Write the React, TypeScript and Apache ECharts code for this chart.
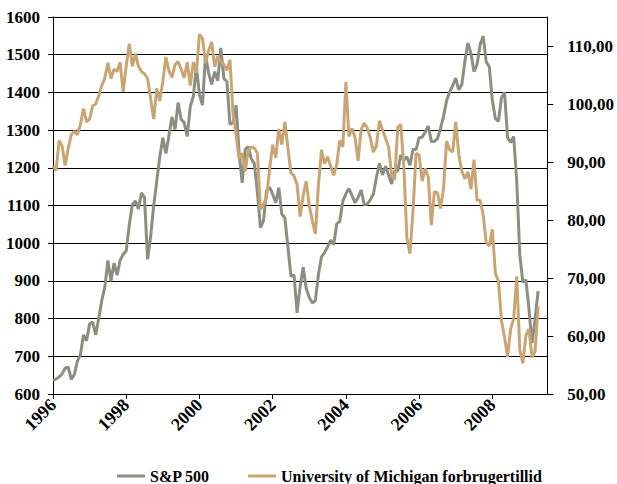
import React, { useEffect, useRef } from "react";
import * as echarts from "echarts";

// Monthly observations, January 1996 – April 2009
const sp500: number[] = [
  // 1996
  636, 640, 645, 654, 669, 671, 639, 652, 687, 705, 757, 741,
  // 1997
  786, 791, 757, 801, 848, 885, 954, 899, 947, 915, 955, 970,
  // 1998
  980, 1049, 1102, 1112, 1091, 1134, 1121, 957, 1017, 1099, 1164, 1229,
  // 1999
  1280, 1238, 1286, 1335, 1302, 1373, 1329, 1320, 1283, 1363, 1389, 1469,
  // 2000
  1394, 1366, 1499, 1452, 1421, 1455, 1431, 1518, 1437, 1429, 1315, 1320,
  // 2001
  1366, 1240, 1160, 1249, 1256, 1224, 1211, 1134, 1041, 1060, 1139, 1148,
  // 2002
  1130, 1107, 1147, 1077, 1067, 990, 912, 916, 815, 886, 936, 880,
  // 2003
  856, 841, 848, 917, 964, 975, 990, 1008, 996, 1051, 1058, 1112,
  // 2004
  1131, 1145, 1126, 1107, 1121, 1141, 1102, 1104, 1115, 1130, 1174, 1212,
  // 2005
  1181, 1204, 1181, 1157, 1192, 1191, 1234, 1220, 1229, 1207, 1249, 1248,
  // 2006
  1280, 1281, 1295, 1311, 1270, 1270, 1277, 1304, 1336, 1378, 1401, 1418,
  // 2007
  1438, 1407, 1421, 1482, 1531, 1503, 1455, 1474, 1527, 1549, 1481, 1468,
  // 2008
  1379, 1331, 1323, 1386, 1400, 1280, 1267, 1283, 1165, 969, 896, 903,
  // 2009
  826, 735, 798, 873,
];

const michigan: number[] = [
  // 1996
  89.3, 88.5, 93.7, 92.7, 89.4, 92.4, 94.7, 95.3, 94.7, 96.5, 99.2, 96.9,
  // 1997
  97.4, 99.7, 100.0, 101.4, 103.2, 104.5, 107.1, 104.4, 106.0, 105.6, 107.2, 102.1,
  // 1998
  106.6, 110.4, 106.5, 108.7, 106.5, 105.6, 105.2, 104.4, 100.9, 97.4, 102.7, 100.5,
  // 1999
  103.9, 108.1, 105.7, 104.6, 106.8, 107.3, 106.0, 104.5, 107.2, 103.2, 107.2, 105.4,
  // 2000
  112.0, 111.3, 107.1, 109.2, 110.7, 106.4, 108.3, 107.3, 106.8, 105.8, 107.6, 98.4,
  // 2001
  94.7, 90.6, 91.5, 88.4, 92.0, 92.6, 92.4, 91.5, 81.8, 82.7, 83.9, 88.8,
  // 2002
  93.0, 90.7, 95.7, 93.0, 96.9, 92.4, 88.1, 87.6, 86.1, 80.6, 84.2, 86.7,
  // 2003
  82.4, 79.9, 77.6, 86.0, 92.1, 89.7, 90.9, 89.3, 87.7, 89.6, 93.7, 92.6,
  // 2004
  103.8, 94.4, 95.8, 94.2, 90.2, 95.6, 96.7, 95.9, 94.2, 91.7, 92.8, 97.1,
  // 2005
  95.5, 94.1, 92.6, 87.7, 86.9, 96.0, 96.5, 89.1, 76.9, 74.2, 81.6, 91.5,
  // 2006
  91.2, 86.7, 88.9, 87.4, 79.1, 84.9, 84.7, 82.0, 85.4, 93.6, 92.1, 91.7,
  // 2007
  96.9, 91.3, 88.4, 87.1, 88.3, 85.3, 90.4, 83.4, 83.4, 80.9, 76.1, 75.5,
  // 2008
  78.4, 70.8, 69.5, 62.6, 59.8, 56.4, 61.2, 63.0, 70.3, 57.6, 55.3, 60.1,
  // 2009
  61.2, 56.3, 57.3, 65.1,
];

const startYear = 1996;
const monthCount = 163; // Jan 1996 .. Jul 2009 (axis extent)
const months: string[] = [];
for (let i = 0; i < monthCount; i++) {
  const y = startYear + Math.floor(i / 12);
  const m = (i % 12) + 1;
  months.push(`${y}-${m < 10 ? "0" + m : m}`);
}

const seriesNames = ["S&P 500", "University of Michigan forbrugertillid"];
const GRAY = "#8c8e82";
const TAN = "#c9a572";
const FONT = "Liberation Serif";

export default function App() {
  const ref = useRef<HTMLDivElement>(null);
  useEffect(() => {
    if (!ref.current) return;
    const chart = echarts.init(ref.current, null, { renderer: "svg" });
    const labelStyle = {
      fontFamily: FONT,
      fontWeight: "bold" as const,
      fontSize: 17,
      color: "#000",
    };
    chart.setOption({
      animation: false,
      backgroundColor: "#fff",
      grid: { left: 53, right: 69, top: 17, bottom: 90, containLabel: false },
      legend: {
        left: 112,
        top: 463,
        itemWidth: 28,
        itemHeight: 3,
        itemGap: 38,
        icon: "rect",
        textStyle: { ...labelStyle, fontSize: 16 },
        data: seriesNames,
      },
      xAxis: {
        type: "category",
        data: months,
        boundaryGap: false,
        axisLine: { lineStyle: { color: "#000", width: 1 } },
        axisTick: { show: true, interval: 23, length: 5, lineStyle: { color: "#000" } },
        axisLabel: {
          ...labelStyle,
          fontSize: 18,
          interval: 23,
          rotate: 45,
          margin: 8,
          formatter: (v: string) => v.slice(0, 4),
        },
        splitLine: { show: false },
      },
      yAxis: [
        {
          type: "value",
          min: 600,
          max: 1600,
          interval: 100,
          position: "left",
          axisLine: { show: true, lineStyle: { color: "#000" } },
          axisTick: { show: true, length: 5, lineStyle: { color: "#000" } },
          axisLabel: { ...labelStyle, margin: 13, formatter: (v: number) => String(v) },
          splitLine: { show: true, lineStyle: { color: "#000", width: 1 } },
        },
        {
          type: "value",
          min: 50,
          max: 115,
          interval: 10,
          position: "right",
          axisLine: { show: true, lineStyle: { color: "#000" } },
          axisTick: { show: true, length: 6, lineStyle: { color: "#000" } },
          axisLabel: {
            ...labelStyle,
            margin: 20,
            showMaxLabel: false,
            formatter: (v: number) => (v % 10 === 0 ? v.toFixed(2).replace(".", ",") : ""),
          },
          splitLine: { show: false },
        },
      ],
      graphic: [
        {
          type: "line",
          shape: { x1: 53, y1: 17, x2: 548, y2: 17 },
          style: { stroke: "#e3e3e3", lineWidth: 1 },
          z: 0,
        },
      ],
      series: [
        {
          name: seriesNames[0],
          type: "line",
          yAxisIndex: 0,
          data: sp500,
          symbol: "none",
          lineStyle: { color: GRAY, width: 3 },
          itemStyle: { color: GRAY },
          z: 3,
        },
        {
          name: seriesNames[1],
          type: "line",
          yAxisIndex: 1,
          data: michigan,
          symbol: "none",
          lineStyle: { color: TAN, width: 3 },
          itemStyle: { color: TAN },
          z: 4,
        },
      ],
    });
    return () => chart.dispose();
  }, []);
  return <div ref={ref} style={{ width: 617, height: 484, position: "absolute", left: 0, top: 0 }} />;
}
